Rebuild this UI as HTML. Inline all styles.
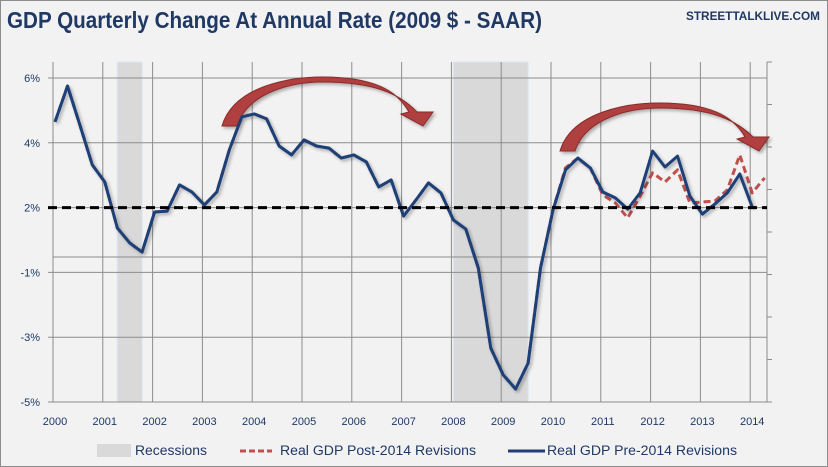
<!DOCTYPE html>
<html><head><meta charset="utf-8"><style>
html,body{margin:0;padding:0;background:#f2f2f2;}
svg{display:block;font-family:"Liberation Sans",sans-serif;}
</style></head><body>
<svg id="chart" width="828" height="467" viewBox="0 0 828 467">
<defs>
<filter id="sh" x="-5%" y="-5%" width="110%" height="120%"><feDropShadow dx="2" dy="2" stdDeviation="1.5" flood-color="#000" flood-opacity="0.3"/></filter>
</defs>
<rect x="0.5" y="0.5" width="827" height="466" fill="#f2f2f2" stroke="#8c8c8c"/>
<text x="7" y="28" font-size="23" font-weight="bold" fill="#1f3864" textLength="535" lengthAdjust="spacingAndGlyphs">GDP Quarterly Change At Annual Rate (2009 $ - SAAR)</text>
<text x="820" y="20" text-anchor="end" font-size="12" font-weight="bold" fill="#1f3864" textLength="134" lengthAdjust="spacingAndGlyphs">STREETTALKLIVE.COM</text>
<g id="plot"></g>
<g>
<rect x="97" y="444" width="34" height="13" fill="#d9d9d9"/>
<text x="135" y="455" font-size="13.5" fill="#1f3864" textLength="72" lengthAdjust="spacingAndGlyphs">Recessions</text>
<line x1="240" y1="451" x2="272" y2="451" stroke="#c0504d" stroke-width="3" stroke-dasharray="6,3"/>
<text x="280" y="455" font-size="13.5" fill="#1f3864" textLength="196" lengthAdjust="spacingAndGlyphs">Real GDP Post-2014 Revisions</text>
<line x1="508" y1="451" x2="545" y2="451" stroke="#1f3f78" stroke-width="3"/>
<text x="547" y="455" font-size="13.5" fill="#1f3864" textLength="190" lengthAdjust="spacingAndGlyphs">Real GDP Pre-2014 Revisions</text>
</g>
</svg>
<script>
const years = [2000,2001,2002,2003,2004,2005,2006,2007,2008,2009,2010,2011,2012,2013,2014];
const yTicks = [6,3.8,1.6,-0.6,-2.8,-5];
const yTickLabels = ["6%","4%","2%","-1%","-3%","-5%"];
const recessions = [[2001.25,2001.75],[2008.0,2009.5]];
const startYear = 2000;
const preValues = [4.51,5.73,4.40,3.05,2.47,0.91,0.40,0.09,1.45,1.48,2.37,2.13,1.69,2.13,3.56,4.68,4.78,4.61,3.69,3.39,3.90,3.69,3.62,3.28,3.39,3.15,2.30,2.54,1.31,1.86,2.44,2.10,1.18,0.87,-0.45,-3.17,-4.08,-4.56,-3.68,-0.45,1.52,2.88,3.28,2.94,2.13,1.93,1.55,2.10,3.52,2.98,3.35,1.99,1.38,1.72,2.10,2.74,1.62];
const postValues = [4.51,5.73,4.40,3.05,2.47,0.91,0.40,0.09,1.45,1.48,2.37,2.13,1.69,2.13,3.56,4.68,4.78,4.61,3.69,3.39,3.90,3.69,3.62,3.28,3.39,3.15,2.30,2.54,1.31,1.86,2.44,2.10,1.18,0.87,-0.45,-3.17,-4.08,-4.56,-3.68,-0.45,1.52,2.95,3.28,2.94,2.03,1.76,1.25,1.99,2.78,2.47,2.88,1.76,1.79,1.82,2.20,3.39,2.10,2.61];
const refLevel = 1.6;

const NS="http://www.w3.org/2000/svg";
const plot=document.getElementById('plot');
const X0=55, PX_YEAR=49.8, TOP=62, BOT=402, LEFT=53, RIGHT=767;
const xS=t=>X0+(t-startYear)*PX_YEAR;
const yS=v=>78+(6-v)*324/11;
function mk(tag,attrs,parent){const e=document.createElementNS(NS,tag);for(const k in attrs)e.setAttribute(k,attrs[k]);(parent||plot).appendChild(e);return e;}

recessions.forEach((r,i)=>{
  const e=mk('rect',{x:xS(r[0]),y:TOP,width:xS(r[1])-xS(r[0]),height:BOT-TOP,fill:'#d9d9d9',stroke:'#dce6f2','stroke-width':1});
  
  
});
years.forEach(y=>{
  const x=xS(y)-2;
  const l=mk('line',{x1:x,y1:TOP,x2:x,y2:BOT,stroke:'#8c8c8c','stroke-width':1});
  
  
  const t=mk('text',{x:xS(y),y:425,'text-anchor':'middle','font-size':11,fill:'#1f3864'});
  t.textContent=y;
  
  
});
yTicks.forEach((v,i)=>{
  const y=yS(v);
  const l=mk('line',{x1:48,y1:y,x2:RIGHT,y2:y,stroke:'#8c8c8c','stroke-width':1});
  
  
  const t=mk('text',{x:40,y:y+4,'text-anchor':'end','font-size':11,fill:'#1f3864'});
  t.textContent=yTickLabels[i];
  
  
});
const extra=mk('line',{x1:LEFT,y1:257,x2:RIGHT,y2:257,stroke:'#8c8c8c','stroke-width':1});


const ra=mk('line',{x1:RIGHT,y1:TOP,x2:RIGHT,y2:BOT,stroke:'#8c8c8c','stroke-width':1});


for(let i=0;i<=8;i++){const yy=TOP+i*42.5;const tk=mk('line',{x1:RIGHT,y1:yy,x2:RIGHT+5,y2:yy,stroke:'#8c8c8c'});

}
function arrow(x0,x1,yb,ytop,name){
  const w=x1-x0, mid=x0+w*0.5;
  const d=`M${x0},${yb} C${x0+w*0.06},${ytop+8} ${x0+w*0.35},${ytop} ${mid},${ytop} C${x0+w*0.75},${ytop} ${x0+w*0.87},${ytop+13} ${x0+w*0.93},${yb-14} L${x0+w*0.89},${yb-12} L${x1},${yb} L${x1+10},${yb-14} L${x0+w*0.97},${yb-14} C${x0+w*0.88},${ytop+16} ${x0+w*0.75},${ytop+5} ${mid},${ytop+5} C${x0+w*0.35},${ytop+5} ${x0+w*0.13},${ytop+15} ${x0+15},${yb} Z`;
  const p=mk('path',{d:d,fill:'#b04040',stroke:'#8b2a2a','stroke-width':1,filter:'url(#sh)'});
  
  
}
arrow(222,423,126,77,'arrow-2004-2007');
arrow(560,759,151,103,'arrow-2010-2014');
function pathFor(vals){return vals.map((v,i)=>(i?'L':'M')+xS(startYear+i/4).toFixed(1)+','+yS(v).toFixed(1)).join(' ');}
const post=mk('path',{d:pathFor(postValues),fill:'none',stroke:'#c0504d','stroke-width':3,'stroke-dasharray':'7,4','stroke-linejoin':'round'});


const pre=mk('path',{d:pathFor(preValues),fill:'none',stroke:'#1f3f78','stroke-width':3,'stroke-linejoin':'round',filter:'url(#sh)'});


const ref=mk('line',{x1:48,y1:yS(refLevel),x2:RIGHT,y2:yS(refLevel),stroke:'#000','stroke-width':3,'stroke-dasharray':'9,5'});


</script>
</body></html>
